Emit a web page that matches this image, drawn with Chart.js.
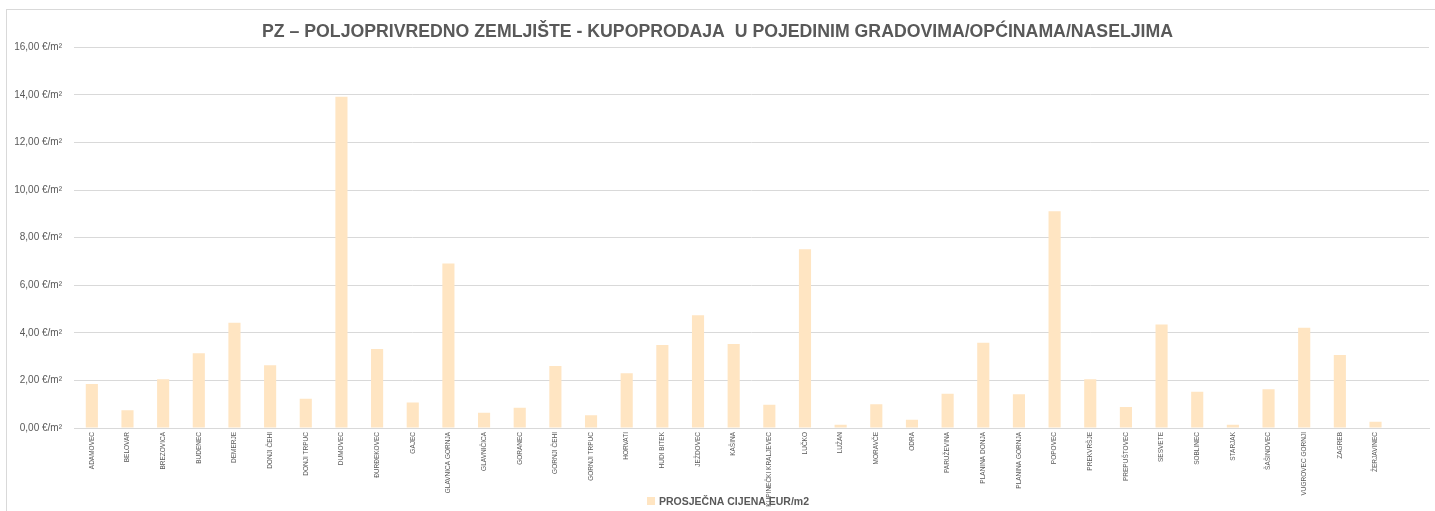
<!DOCTYPE html>
<html>
<head>
<meta charset="utf-8">
<script src="https://cdn.jsdelivr.net/npm/chart.js@4"></script>
<style>
    html, body { margin:0; padding:0; background:#ffffff; }
    #wrap { position:relative; width:1435px; height:511px; overflow:hidden; }
    #frame { position:absolute; left:6px; top:9px; width:1500px; height:600px;
             border-left:1px solid #d9d9d9; border-top:1px solid #d9d9d9; }
    canvas { position:absolute; left:0; top:0; }
</style>
</head>
<body>
<div id="wrap">
    <div id="frame"></div>
    <canvas id="priceChart" width="1435" height="511"></canvas>
</div>
<script>

// ==========================================
// PZ - poljoprivredno zemljište, kupoprodaja
// ==========================================

const places = [
    "ADAMOVEC", "BELOVAR", "BREZOVICA", "BUDENEC", "DEMERJE", "DONJI ČEHI",
    "DONJI TRPUC", "DUMOVEC", "ĐURĐEKOVEC", "GAJEC", "GLAVNICA GORNJA",
    "GLAVNIČICA", "GORANEC", "GORNJI ČEHI", "GORNJI TRPUC", "HORVATI",
    "HUDI BITEK", "JEŽDOVEC", "KAŠINA", "KUPINEČKI KRALJEVEC", "LUČKO",
    "LUŽAN", "MORAVČE", "ODRA", "PARUŽEVINA", "PLANINA DONJA",
    "PLANINA GORNJA", "POPOVEC", "PREKVRŠJE", "PREPUŠTOVEC", "SESVETE",
    "SOBLINEC", "STARJAK", "ŠAŠINOVEC", "VUGROVEC GORNJI", "ZAGREB",
    "ŽERJAVINEC", ""
];

const avgPrice = [
    1.85, 0.75, 2.05, 3.14, 4.42, 2.64,
    1.23, 13.92, 3.32, 1.07, 6.91,
    0.64, 0.85, 2.61, 0.54, 2.30,
    3.49, 4.74, 3.53, 0.98, 7.51,
    0.14, 1.00, 0.35, 1.44, 3.58,
    1.42, 9.11, 2.05, 0.88, 4.35,
    1.52, 0.14, 1.63, 4.21, 3.07,
    0.26, null
];

const yTickValues = [0, 2, 4, 6, 8, 10, 12, 14, 16];

const seriesName = "PROSJEČNA CIJENA EUR/m2";

const chartTitle = "PZ – POLJOPRIVREDNO ZEMLJIŠTE - KUPOPRODAJA  U POJEDINIM GRADOVIMA/OPĆINAMA/NASELJIMA";

const FONT = "'Liberation Sans Narrow', 'Arial Narrow', 'Liberation Sans', sans-serif";

function euroLabel(v){

    return v.toFixed(2).replace(".", ",") + " €/m²";

}

// legend drawn by hand so it can sit on top of the long x labels, like the original
const bottomLegend = {

    id:"bottomLegend",

    afterDraw(chart){

        const ctx = chart.ctx;
        const ds = chart.data.datasets[0];

        ctx.save();
        ctx.font = "bold 10.5px " + FONT;
        const textW = ctx.measureText(ds.label).width;
        const box = 8, gap = 4;
        const left = 728 - (box + gap + textW) / 2;
        const mid = 501;

        ctx.fillStyle = ds.backgroundColor;
        ctx.fillRect(left, mid - box / 2, box, box);

        ctx.fillStyle = "#595959";
        ctx.textBaseline = "middle";
        ctx.textAlign = "left";
        ctx.fillText(ds.label, left + box + gap, mid + 1);
        ctx.restore();

    }

};

new Chart(

    document.getElementById("priceChart"),

    {

        type:"bar",

        data:{

            labels:places,

            datasets:[{

                label:seriesName,

                data:avgPrice,

                backgroundColor:"#FFE5C2",

                borderWidth:0,

                categoryPercentage:1,

                barPercentage:0.34

            }]

        },

        plugins:[bottomLegend],

        options:{

            responsive:false,

            animation:false,

            layout:{

                padding:{ left:6, right:6, top:0, bottom:0 }

            },

            plugins:{

                title:{

                    display:true,

                    text:chartTitle,

                    color:"#595959",

                    font:{ family:FONT, size:17.7, weight:"bold" },

                    padding:{ top:21, bottom:5 }

                },

                legend:{ display:false },

                tooltip:{ enabled:false }

            },

            scales:{

                x:{

                    grid:{ display:false, drawTicks:false },

                    border:{ color:"#d9d9d9" },

                    ticks:{

                        autoSkip:false,

                        minRotation:90,

                        maxRotation:90,

                        padding:4,

                        color:"#595959",

                        font:{ family:FONT, size:6.5 }

                    },

                    afterFit(scale){ scale.height = 83; }

                },

                y:{

                    min:0,

                    max:16,

                    afterBuildTicks(scale){

                        scale.ticks = yTickValues.map(v => ({ value:v }));

                    },

                    grid:{ color:"#d9d9d9", drawTicks:false },

                    border:{ display:false },

                    ticks:{

                        padding:12,

                        color:"#595959",

                        font:{ family:FONT, size:10 },

                        callback:v => euroLabel(v)

                    },

                    afterFit(scale){ scale.width = 68; }

                }

            }

        }

    }

);

</script>
</body>
</html>
